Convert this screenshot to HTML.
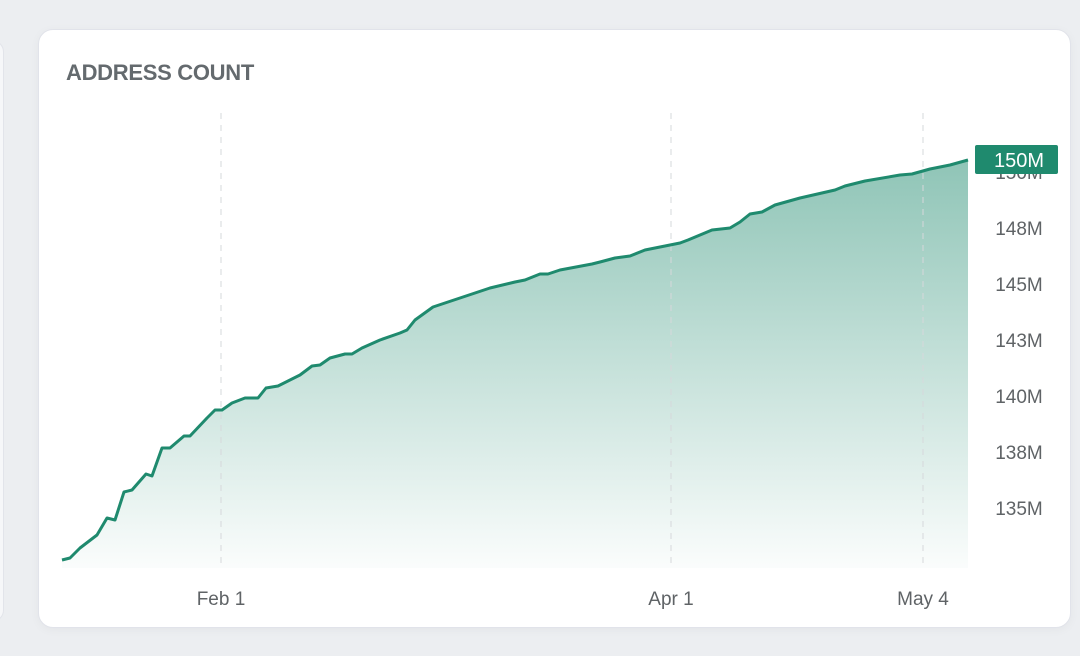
<!DOCTYPE html>
<html><head><style>
body{margin:0;width:1080px;height:656px;background:#eceef1;font-family:"Liberation Sans",sans-serif;overflow:hidden;position:relative}
.side{position:absolute;left:-20px;top:40px;width:22px;height:580px;background:#f6f7f9;border-radius:0 12px 12px 0;border:1px solid #e2e4ea}
.card{position:absolute;left:38px;top:29px;width:1031px;height:597px;background:#fff;border-radius:15px;border:1px solid #e1e3ea;box-shadow:0 2px 10px rgba(0,0,0,0.04)}
.t{position:absolute;left:66px;top:60px;font-size:22px;font-weight:bold;color:#646a6e;letter-spacing:-0.3px}
svg{position:absolute;left:0;top:0}
</style></head><body>
<div class="side"></div>
<div class="card"></div>
<div class="t">ADDRESS COUNT</div>
<svg width="1080" height="656">
<defs><linearGradient id="g" gradientUnits="userSpaceOnUse" x1="0" y1="160" x2="0" y2="568"><stop offset="0" stop-color="#1f8a6e" stop-opacity="0.5"/><stop offset="1" stop-color="#1f8a6e" stop-opacity="0.02"/></linearGradient></defs>
<path fill="url(#g)" d="M62,560 L70,558 L80,548 L97,535 L107,518 L115,520 L124,492 L132,490 L146,474 L152,476 L162,448 L170,448 L184,436 L190,436 L207,418 L215,410 L222,410 L232,403 L245,398 L258,398 L266,388 L278,386 L300,375 L312,366 L320,365 L330,358 L345,354 L352,354 L362,348 L380,340 L400,333 L407,330 L415,320 L433,307 L460,298 L490,288 L515,282 L525,280 L540,274 L548,274 L560,270 L592,264 L600,262 L615,258 L630,256 L645,250 L680,243 L688,240 L700,235 L712,230 L730,228 L740,222 L750,214 L762,212 L775,205 L800,198 L835,190 L845,186 L865,181 L900,175 L912,174 L930,169 L950,165 L968,160 L968,568 L62,568 Z"/>
<g stroke="#d6d8db" stroke-dasharray="6,6" stroke-width="1">
<line x1="221" y1="113" x2="221" y2="568"/><line x1="671" y1="113" x2="671" y2="568"/><line x1="923" y1="113" x2="923" y2="568"/></g>
<polyline fill="none" stroke="#1f8a6e" stroke-width="3" stroke-linejoin="round" points="62,560 70,558 80,548 97,535 107,518 115,520 124,492 132,490 146,474 152,476 162,448 170,448 184,436 190,436 207,418 215,410 222,410 232,403 245,398 258,398 266,388 278,386 300,375 312,366 320,365 330,358 345,354 352,354 362,348 380,340 400,333 407,330 415,320 433,307 460,298 490,288 515,282 525,280 540,274 548,274 560,270 592,264 600,262 615,258 630,256 645,250 680,243 688,240 700,235 712,230 730,228 740,222 750,214 762,212 775,205 800,198 835,190 845,186 865,181 900,175 912,174 930,169 950,165 968,160"/>
<g font-size="19" fill="#5f6366" font-family="Liberation Sans,sans-serif" text-anchor="middle">
<text x="1019" y="179">150M</text>
<text x="1019" y="235">148M</text><text x="1019" y="291">145M</text><text x="1019" y="347">143M</text><text x="1019" y="403">140M</text><text x="1019" y="459">138M</text><text x="1019" y="515">135M</text>
<text x="221" y="605">Feb 1</text><text x="671" y="605">Apr 1</text><text x="923" y="605">May 4</text>
</g>
<rect x="975" y="145" width="83" height="29" rx="2" fill="#1f8a6e"/>
<text x="1019" y="167" font-size="20" fill="#fff" text-anchor="middle" font-family="Liberation Sans,sans-serif">150M</text>
</svg>
</body></html>
